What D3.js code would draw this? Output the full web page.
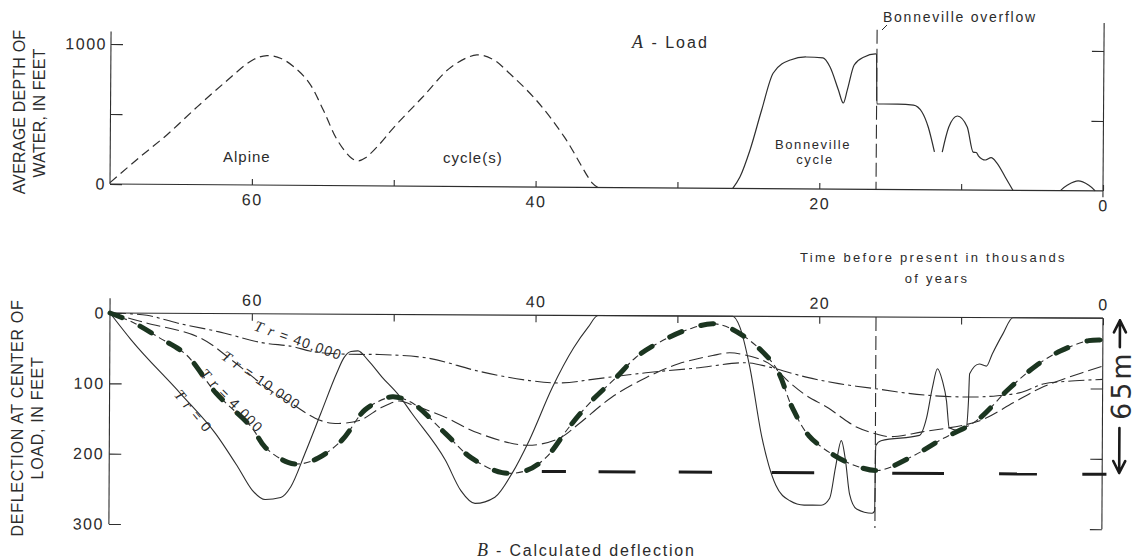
<!DOCTYPE html>
<html>
<head>
<meta charset="utf-8">
<script src="https://d3js.org/d3.v7.min.js"></script>
<style>
  body { margin: 0; background: #fff; }
  svg text { font-family: "Liberation Sans", Arial, sans-serif; fill: #2b2b2b; }
</style>
</head>
<body>
<div id="chart"></div>
<script>
// time before present, thousands of years
const timeTicks = [60, 50, 40, 30, 20, 10, 0];
const timeLabels = [60, 40, 20, 0];
const loadTicks = [0, 500, 1000];
const loadLabels = [0, 1000];
const deflTicks = [0, 100, 200, 300];
const overflowTime = 16;

// A - Load : average depth of water (feet)   [time, depth]
const alpineCycle = [[70,10],[68,186],[66,355],[64,545],[62,727],[60,893],[59,925],[58,905],[57,838],[56,731],[55,539],[54,325],[53,198],[52.5,178],[52,200],[51,300],[50,421],[48,637],[46,853],[44.2,940],[43,905],[42,820],[40,621],[38,359],[36,31],[35.6,0]];
const bonnevilleCycle = [[26.1,0],[25.6,81],[24.9,275],[24.1,561],[23.3,826],[22.1,920],[21,942],[19.8,936],[19.3,871],[18.7,708],[18.35,615],[18.07,709],[17.6,887],[16.9,945],[16.1,967],[16.03,965],[15.98,610],[15.5,610],[14.5,610],[13.4,604],[12.8,555],[12.35,448],[11.9,270],[11.7,null],[11.35,270],[10.9,449],[10.3,528],[9.6,450],[9.17,271],[8.95,268],[8.8,245],[8.3,215],[7.9,232],[7.5,195],[6.9,95],[6.35,0]];
const lateBump = [[3.0,0],[2.5,40],[1.75,70],[1.0,40],[0.55,0]];

// B - calculated deflection at center of load (feet)   [time, deflection]
const tr0 = [[70,0],[68.5,38],[65,114],[62.5,171],[60.9,219],[59.9,251],[59,264],[57.9,261],[57.2,246],[56.2,198],[55.1,141],[54,84],[53.5,62],[53,53],[52.5,52],[51.8,65],[50.8,89],[49.6,115],[48.7,140],[46.3,207],[45.2,250],[44.2,268],[42.8,259],[41.6,225],[40.4,178],[38.8,103],[37.3,46],[36.3,17],[35.6,0],[26.1,0],[25.6,15],[24.9,70],[24,172],[23.5,212],[23,240],[22,262],[21,268],[19.8,268],[19.2,258],[18.8,214],[18.4,176],[18.1,204],[17.8,252],[17.3,273],[16.2,279],[16.03,276],[15.97,183],[15.6,176],[12.9,168],[12.4,143],[12,100],[11.65,73],[11.3,90],[11,119],[10.8,157],[10.1,161],[9.6,157],[9.45,118],[9.38,80],[8.7,66],[8.2,69],[7.8,52],[7.05,23],[6.35,0],[0,0]];
const tr4000 = [[70,0],[68.4,13],[66.5,35],[64.6,59],[62.5,113],[60,161],[59,190],[57.4,211],[56.5,213],[55.3,205],[53.6,179],[52,136],[50.5,119],[50,117],[48.7,125],[46.3,169],[44.5,203],[42.3,224],[40.6,221],[39.2,202],[37.6,159],[36,121],[34.3,88],[32.9,59],[31.3,38],[29.1,18],[27.3,11],[25.4,27],[23.1,71],[21.9,128],[20.7,169],[18.9,197],[17.2,213],[15.7,218],[13.4,198],[11.3,173],[8.9,147],[6.6,101],[4.7,68],[3,47],[1,32],[0,31]];
const tr10000 = [[70,0],[67.6,13],[63.7,34],[61.4,66],[59,104],[57.2,127],[55.5,148],[54.3,155],[52.4,151],[50.8,132],[49.6,123],[48.7,128],[46.3,146],[44,168],[40.6,185],[38.3,175],[36.9,154],[34.6,116],[32.2,88],[29.9,68],[27.5,56],[26.3,52],[25,56],[23.6,66],[22,95],[20.9,112],[19.3,130],[18.6,140],[17.3,157],[16,166],[15,170],[12.7,163],[8.7,147],[6.3,121],[4.4,100],[2.5,85],[0,68]];
const tr40000 = [[70,0],[67.4,3],[65.2,14],[62.3,26],[59.3,41],[57.2,46],[55.8,53],[54.3,56],[52.2,57],[51,57],[47.5,62],[44,80],[40.4,93],[38.1,96],[35.7,90],[32.2,81],[28.7,74],[25.1,66],[23.5,72],[20.9,86],[18.6,95],[16,102],[13.8,108],[11.5,112],[9,113],[7.4,111],[5.7,106],[4.2,94],[2.5,90],[0,87]];
const trNames = ["0", "4,000", "10,000", "40,000"];
// level reached by the deflection (65 m), drawn as broken heavy line
const targetLevel = 222;
const targetDashes = [[39.5,37.8],[35.5,32.9],[29.85,27.5],[23.3,20.3],[14.8,11.15],[7.27,4.6],[1.4,-0.3]];

const width = 1137, height = 560;
const ink = "#2e2e2e";

const svg = d3.select("#chart").append("svg")
    .attr("width", width)
    .attr("height", height);

const x = d3.scaleLinear().domain([70, 0]).range([110, 1103]);
const yA = d3.scaleLinear().domain([0, 1000]).range([184, 44]);
const yB = d3.scaleLinear().domain([0, 300]).range([313, 524]);

function styleAxis(g) {
    g.select(".domain").remove();
    g.selectAll(".tick line").attr("stroke", ink).attr("stroke-width", 1.1);
    g.selectAll(".tick text")
        .style("font-size", "16px")
        .style("letter-spacing", "1.5px")
        .attr("fill", "#2b2b2b");
}

function vline(g, xp, y1, y2, dash, w) {
    g.append("line")
        .attr("x1", xp).attr("x2", xp)
        .attr("y1", y1).attr("y2", y2)
        .attr("stroke", ink)
        .attr("stroke-width", w || 1.1)
        .attr("stroke-dasharray", dash || null);
}

// ---------------- A - Load ----------------
const gA = svg.append("g").attr("transform", "rotate(0.4,110,184)");

gA.append("g")
    .attr("transform", `translate(0,${yA(0)})`)
    .call(d3.axisBottom(x).tickValues(timeTicks).tickSizeInner(-6).tickSizeOuter(0).tickPadding(9)
        .tickFormat(d => timeLabels.includes(d) ? d : ""))
    .call(styleAxis);

gA.append("g")
    .attr("transform", `translate(${x(70)},0)`)
    .call(d3.axisLeft(yA).tickValues(loadTicks).tickSizeInner(-12).tickSizeOuter(0).tickPadding(4)
        .tickFormat(d => loadLabels.includes(d) ? d : ""))
    .call(styleAxis);

gA.append("g")
    .attr("transform", `translate(${x(0)},0)`)
    .call(d3.axisRight(yA).tickValues([500, 1000]).tickSizeInner(-12).tickSizeOuter(0).tickFormat(""))
    .call(styleAxis);

gA.append("line")
    .attr("x1", x(70)).attr("x2", x(0))
    .attr("y1", yA(0)).attr("y2", yA(0))
    .attr("stroke", ink).attr("stroke-width", 1.2);
vline(gA, x(70), yA(1090), yA(0));
vline(gA, x(0), yA(1200), yA(-45));
vline(gA, x(overflowTime), yA(1140), yA(0), "14,5");

const smoothA = d3.line()
    .x(d => x(d[0]))
    .y(d => yA(d[1]))
    .curve(d3.curveCatmullRom.alpha(0.5));
const lineA = d3.line()
    .defined(d => d[1] != null)
    .x(d => x(d[0]))
    .y(d => yA(d[1]))
    .curve(d3.curveMonotoneX);

gA.append("path").datum(alpineCycle)
    .attr("d", smoothA).attr("fill", "none")
    .attr("stroke", ink).attr("stroke-width", 1.2).attr("stroke-dasharray", "9,5");
gA.append("path").datum(bonnevilleCycle)
    .attr("d", lineA).attr("fill", "none")
    .attr("stroke", ink).attr("stroke-width", 1.2);
gA.append("path").datum(lateBump)
    .attr("d", smoothA).attr("fill", "none")
    .attr("stroke", ink).attr("stroke-width", 1.2);

// ---------------- B - Calculated deflection ----------------
const gB = svg.append("g").attr("transform", "rotate(0.3,110,313)");

gB.append("g")
    .attr("transform", `translate(0,${yB(0)})`)
    .call(d3.axisTop(x).tickValues(timeTicks).tickSizeInner(-7).tickSizeOuter(0).tickPadding(8)
        .tickFormat(d => timeLabels.includes(d) ? d : ""))
    .call(styleAxis);

gB.append("g")
    .attr("transform", `translate(${x(70)},0)`)
    .call(d3.axisLeft(yB).tickValues(deflTicks).tickSizeInner(-12).tickSizeOuter(0).tickPadding(5))
    .call(styleAxis);

gB.append("g")
    .attr("transform", `translate(${x(0)},0)`)
    .call(d3.axisRight(yB).tickValues([100, 200, 300]).tickSizeInner(-12).tickSizeOuter(0).tickFormat(""))
    .call(styleAxis);

gB.append("line")
    .attr("x1", x(70)).attr("x2", x(0))
    .attr("y1", yB(0)).attr("y2", yB(0))
    .attr("stroke", ink).attr("stroke-width", 1.2);
vline(gB, x(70), yB(-21), yB(300));
vline(gB, x(0), yB(0), yB(300));
vline(gB, x(overflowTime), yB(0), yB(300), "14,5");

const smoothB = d3.line()
    .x(d => x(d[0]))
    .y(d => yB(d[1]))
    .curve(d3.curveCatmullRom.alpha(0.5));
const lineB = d3.line()
    .x(d => x(d[0]))
    .y(d => yB(d[1]))
    .curve(d3.curveMonotoneX);

gB.append("path").datum(tr40000)
    .attr("d", smoothB).attr("fill", "none")
    .attr("stroke", ink).attr("stroke-width", 1.1).attr("stroke-dasharray", "16,4,3,4");
gB.append("path").datum(tr10000)
    .attr("d", smoothB).attr("fill", "none")
    .attr("stroke", ink).attr("stroke-width", 1.1).attr("stroke-dasharray", "14,5");
gB.append("path").datum(tr0)
    .attr("d", lineB).attr("fill", "none")
    .attr("stroke", ink).attr("stroke-width", 1.1);
gB.append("path").datum(tr4000)
    .attr("d", smoothB).attr("fill", "none")
    .attr("stroke", ink).attr("stroke-width", 1.1).attr("stroke-dasharray", "7,4");
// hand-drawn heavy dashes over Tr = 4,000
gB.append("path").datum(tr4000)
    .attr("d", smoothB).attr("fill", "none")
    .attr("stroke", "#1b3520").attr("stroke-width", 5)
    .attr("stroke-linecap", "round")
    .attr("stroke-dasharray", "13,20");

gB.selectAll(".target")
    .data(targetDashes)
    .enter().append("line")
    .attr("class", "target")
    .attr("x1", d => x(d[0])).attr("x2", d => x(d[1]))
    .attr("y1", yB(targetLevel)).attr("y2", yB(targetLevel))
    .attr("stroke", "#1c1c1c").attr("stroke-width", 3);

// curve labels
const labelPos = [
    {t: 65.5, d: 116, angle: 50},
    {t: 63.7, d: 87, angle: 45},
    {t: 62.2, d: 64, angle: 34},
    {t: 59.9, d: 23, angle: 19}
];
trNames.forEach(function(name, i) {
    const p = labelPos[i];
    const px = x(p.t), py = yB(p.d);
    const t = gB.append("text")
        .attr("transform", `translate(${px},${py}) rotate(${p.angle})`)
        .style("font-size", "14px")
        .style("letter-spacing", "1.3px");
    t.append("tspan")
        .style("font-family", "'Liberation Serif', 'Times New Roman', serif")
        .style("font-style", "italic")
        .style("font-size", "15px")
        .text("T r");
    t.append("tspan").text(" = " + name);
});

// hand-written 65 m bracket
const ax = x(0) + 17;
function arrow(g, y1, y2) {
    const dir = y2 > y1 ? 1 : -1;
    g.append("path")
        .attr("d", `M${ax},${y1} L${ax},${y2} M${ax - 6},${y2 - dir * 12} L${ax},${y2} L${ax + 6},${y2 - dir * 12}`)
        .attr("fill", "none")
        .attr("stroke", "#1a1a1a")
        .attr("stroke-width", 2.6)
        .attr("stroke-linecap", "round")
        .attr("stroke-linejoin", "round");
}
arrow(gB, yB(41), yB(3));
arrow(gB, yB(156), yB(220));
gB.append("text")
    .attr("transform", `translate(${ax + 11},${yB(95)}) rotate(-90)`)
    .attr("text-anchor", "middle")
    .style("font-family", "'DejaVu Sans', sans-serif")
    .style("font-size", "27px")
    .style("letter-spacing", "3px")
    .attr("fill", "#1a1a1a")
    .text("65m");

// ---------------- titles and notes ----------------
function label(txt, px, py, size, ls, anchor) {
    return svg.append("text")
        .attr("x", px).attr("y", py)
        .attr("text-anchor", anchor || "start")
        .style("font-size", size + "px")
        .style("letter-spacing", ls + "px")
        .text(txt);
}

svg.append("text")
    .attr("transform", "translate(25,112) rotate(-90)")
    .attr("text-anchor", "middle")
    .style("font-size", "16px").style("letter-spacing", "0.2px")
    .text("AVERAGE DEPTH OF");
svg.append("text")
    .attr("transform", "translate(45,113) rotate(-90)")
    .attr("text-anchor", "middle")
    .style("font-size", "16px").style("letter-spacing", "0.2px")
    .text("WATER, IN FEET");
svg.append("text")
    .attr("transform", "translate(23,418) rotate(-90)")
    .attr("text-anchor", "middle")
    .style("font-size", "16px").style("letter-spacing", "0.7px")
    .text("DEFLECTION AT CENTER OF");
svg.append("text")
    .attr("transform", "translate(43,418) rotate(-90)")
    .attr("text-anchor", "middle")
    .style("font-size", "16px").style("letter-spacing", "0.7px")
    .text("LOAD, IN FEET");

const tA = svg.append("text").attr("x", 632).attr("y", 48).style("font-size", "16px").style("letter-spacing", "2px");
tA.append("tspan").style("font-family", "'Liberation Serif', 'Times New Roman', serif")
    .style("font-style", "italic").style("font-size", "18px").text("A");
tA.append("tspan").text(" - Load");

const tB = svg.append("text").attr("x", 477).attr("y", 556).style("font-size", "16px").style("letter-spacing", "1.8px");
tB.append("tspan").style("font-family", "'Liberation Serif', 'Times New Roman', serif")
    .style("font-style", "italic").style("font-size", "18px").text("B");
tB.append("tspan").text(" - Calculated  deflection");

label("Alpine", 223, 162, 15, 1);
label("cycle(s)", 443, 163, 15, 1);
label("Bonneville", 813, 149, 13, 1.6, "middle");
label("cycle", 815, 164, 13, 1.6, "middle");
label("Bonneville overflow", 883, 22, 14, 1.75);
svg.append("line")
    .attr("x1", 882).attr("y1", 30).attr("x2", 887).attr("y2", 25)
    .attr("stroke", ink).attr("stroke-width", 1);

label("Time before present in thousands", 800, 262, 13, 2.3);
label("of years", 937, 283, 13, 2.3, "middle");
</script>
</body>
</html>
